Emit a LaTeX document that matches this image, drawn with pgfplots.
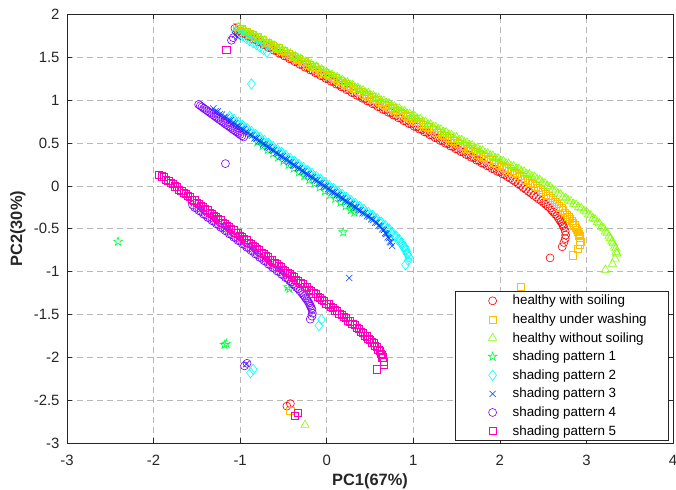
\documentclass[border=0pt]{standalone}
\usepackage{pgfplots}
\pgfplotsset{compat=1.18}
\usepackage{fontspec}
\setmainfont{Liberation Sans}
\usetikzlibrary{plotmarks}

\definecolor{c1}{rgb}{1,0,0}
\definecolor{c2}{rgb}{1,0.75,0}
\definecolor{c3}{rgb}{0.5,1,0}
\definecolor{c4}{rgb}{0,1,0.25}
\definecolor{c5}{rgb}{0,1,1}
\definecolor{c6}{rgb}{0,0.25,1}
\definecolor{c7}{rgb}{0.5,0,1}
\definecolor{c8}{rgb}{1,0,0.75}
\definecolor{axc}{rgb}{0.15,0.15,0.15}

\pgfdeclareplotmark{pentagram}{%
  \pgfpathmoveto{\pgfpointpolar{90}{\pgfplotmarksize}}%
  \pgfpathlineto{\pgfpointpolar{126}{0.382\pgfplotmarksize}}%
  \pgfpathlineto{\pgfpointpolar{162}{\pgfplotmarksize}}%
  \pgfpathlineto{\pgfpointpolar{198}{0.382\pgfplotmarksize}}%
  \pgfpathlineto{\pgfpointpolar{234}{\pgfplotmarksize}}%
  \pgfpathlineto{\pgfpointpolar{270}{0.382\pgfplotmarksize}}%
  \pgfpathlineto{\pgfpointpolar{306}{\pgfplotmarksize}}%
  \pgfpathlineto{\pgfpointpolar{342}{0.382\pgfplotmarksize}}%
  \pgfpathlineto{\pgfpointpolar{18}{\pgfplotmarksize}}%
  \pgfpathlineto{\pgfpointpolar{54}{0.382\pgfplotmarksize}}%
  \pgfpathclose
  \pgfusepathqstroke
}

\begin{document}
\begin{tikzpicture}
\begin{axis}[
  scale only axis, width=606pt, height=428.5pt,
  xmin=-3, xmax=4, ymin=-3, ymax=2,
  xtick={-3,-2,-1,0,1,2,3,4},
  ytick={-3,-2.5,-2,-1.5,-1,-0.5,0,0.5,1,1.5,2},
  grid=major,
  major grid style={dash pattern=on 6pt off 4pt, color=black!28, line width=0.6pt},
  tick align=inside, major tick length=5pt,
  axis line style={color=axc, line width=0.6pt},
  every tick/.style={color=axc, line width=0.6pt},
  tick label style={font=\fontsize{14.9}{17}\selectfont, color=axc},
  xticklabel style={yshift=-9pt},
  yticklabel style={xshift=-4pt},
  /pgf/number format/assume math mode=true,
  xlabel={PC1(67\%)}, ylabel={PC2(30\%)},
  label style={font=\fontsize{16.4}{19}\selectfont\bfseries, color=axc},
  xlabel style={at={(rel axis cs:0.5,0)}, anchor=base, yshift=-42pt},
  ylabel style={at={(rel axis cs:0,0.5)}, anchor=center, yshift=49pt},
  legend cell align=left,
  legend style={at={(rel axis cs:0.9934,0.0047)}, anchor=south east,
    draw=axc, line width=0.6pt, fill=white, text=black,
    font=\fontsize{13.4}{15}\selectfont,
    inner xsep=20pt, inner ysep=2pt, row sep=3.4pt, cells={anchor=west}},
  legend image code/.code={\draw[draw=none] (3pt,0pt) -- (38pt,0pt); \draw[#1, only marks] plot coordinates {(20pt,0pt)};},
]
% healthy with soiling
\addplot[only marks, mark=o, mark size=4pt, color=c1, line width=0.6pt] coordinates {
(-1.06,1.840) (-1.00,1.807) (-0.94,1.774) (-0.88,1.741) (-0.82,1.708) (-0.76,1.676) (-0.70,1.643) (-0.64,1.610) (-0.58,1.577) (-0.52,1.544)
(-0.46,1.511) (-0.40,1.478) (-0.34,1.445) (-0.28,1.413) (-0.22,1.380) (-0.16,1.347) (-0.10,1.314) (-0.04,1.281) (0.02,1.248) (0.08,1.215)
(0.14,1.182) (0.20,1.150) (0.26,1.117) (0.32,1.084) (0.38,1.051) (0.44,1.018) (0.50,0.985) (0.56,0.952) (0.62,0.919) (0.68,0.887)
(0.74,0.854) (0.80,0.821) (0.86,0.788) (0.92,0.755) (0.98,0.722) (1.04,0.689) (1.10,0.656) (1.16,0.624) (1.22,0.591) (1.28,0.558)
(1.34,0.525) (1.40,0.492) (1.46,0.459) (1.52,0.426) (1.58,0.393) (1.64,0.361) (1.70,0.328) (1.76,0.295) (1.82,0.262) (1.88,0.229)
(1.94,0.196) (2.00,0.163) (2.06,0.128) (2.12,0.090) (2.18,0.050) (2.24,0.005) (2.30,-0.040) (2.36,-0.085) (2.42,-0.130) (2.48,-0.175)
(2.53,-0.215) (2.58,-0.260) (2.62,-0.305) (2.66,-0.350) (2.69,-0.395) (2.72,-0.440) (2.74,-0.485) (2.755,-0.530) (2.76,-0.575) (2.755,-0.615)
(2.74,-0.660) (2.72,-0.710) (2.58,-0.840) (-0.46,-2.57) (-0.42,-2.54)
(-1.03,1.812) (-0.97,1.779) (-0.91,1.746) (-0.85,1.713) (-0.79,1.680) (-0.73,1.647) (-0.67,1.614) (-0.61,1.582) (-0.55,1.549) (-0.49,1.516)
(-0.43,1.483) (-0.37,1.450) (-0.31,1.417) (-0.25,1.384) (-0.19,1.352) (-0.13,1.319) (-0.07,1.286) (-0.01,1.253) (0.05,1.220) (0.11,1.187)
(0.17,1.154) (0.23,1.122) (0.29,1.089) (0.35,1.056) (0.41,1.023) (0.47,0.990) (0.53,0.957) (0.59,0.924) (0.65,0.892) (0.71,0.859)
(0.77,0.826) (0.83,0.793) (0.89,0.760) (0.95,0.727) (1.01,0.694) (1.07,0.662) (1.13,0.629) (1.19,0.596) (1.25,0.563) (1.31,0.530)
(1.37,0.497) (1.43,0.464) (1.49,0.432) (1.55,0.399) (1.61,0.366) (1.67,0.333) (1.73,0.300) (1.79,0.267) (1.85,0.234) (1.91,0.202)
(1.97,0.169) (2.03,0.140) (2.09,0.105) (2.15,0.068) (2.21,0.025) (2.27,-0.020) (2.33,-0.065) (2.39,-0.110) (2.45,-0.155) (2.505,-0.197)
(2.555,-0.240) (2.60,-0.285) (2.64,-0.330) (2.675,-0.375) (2.705,-0.420) (2.73,-0.465)
};
\addlegendentry{healthy with soiling}
% healthy under washing
\addplot[only marks, mark=square, mark size=3.6pt, color=c2, line width=0.6pt] coordinates {
(-1.04,1.860) (-0.98,1.828) (-0.92,1.796) (-0.86,1.765) (-0.80,1.733) (-0.74,1.701) (-0.68,1.669) (-0.62,1.637) (-0.56,1.606) (-0.50,1.574)
(-0.44,1.542) (-0.38,1.510) (-0.32,1.478) (-0.26,1.447) (-0.20,1.415) (-0.14,1.383) (-0.08,1.351) (-0.02,1.319) (0.04,1.288) (0.10,1.256)
(0.16,1.224) (0.22,1.192) (0.28,1.160) (0.34,1.129) (0.40,1.097) (0.46,1.065) (0.52,1.033) (0.58,1.001) (0.64,0.970) (0.70,0.938)
(0.76,0.906) (0.82,0.874) (0.88,0.842) (0.94,0.811) (1.00,0.779) (1.06,0.747) (1.12,0.715) (1.18,0.683) (1.24,0.652) (1.30,0.620)
(1.36,0.588) (1.42,0.556) (1.48,0.524) (1.54,0.493) (1.60,0.461) (1.66,0.429) (1.72,0.397) (1.78,0.365) (1.84,0.334) (1.90,0.302)
(1.96,0.270) (2.02,0.238) (2.08,0.206) (2.14,0.174) (2.20,0.140) (2.26,0.100) (2.32,0.060) (2.38,0.020) (2.44,-0.025) (2.50,-0.070)
(2.56,-0.120) (2.61,-0.165) (2.66,-0.210) (2.71,-0.260) (2.75,-0.310) (2.79,-0.360) (2.83,-0.410) (2.86,-0.460) (2.89,-0.510) (2.91,-0.560)
(2.925,-0.610) (2.93,-0.650) (2.92,-0.690) (2.90,-0.735) (2.84,-0.810) (2.24,-1.18) (-0.42,-2.62)
(-1.01,1.832) (-0.95,1.800) (-0.89,1.769) (-0.83,1.737) (-0.77,1.705) (-0.71,1.673) (-0.65,1.641) (-0.59,1.610) (-0.53,1.578) (-0.47,1.546)
(-0.41,1.514) (-0.35,1.482) (-0.29,1.451) (-0.23,1.419) (-0.17,1.387) (-0.11,1.355) (-0.05,1.323) (0.01,1.292) (0.07,1.260) (0.13,1.228)
(0.19,1.196) (0.25,1.164) (0.31,1.133) (0.37,1.101) (0.43,1.069) (0.49,1.037) (0.55,1.005) (0.61,0.974) (0.67,0.942) (0.73,0.910)
(0.79,0.878) (0.85,0.846) (0.91,0.815) (0.97,0.783) (1.03,0.751) (1.09,0.719) (1.15,0.687) (1.21,0.656) (1.27,0.624) (1.33,0.592)
(1.39,0.560) (1.45,0.528) (1.51,0.497) (1.57,0.465) (1.63,0.433) (1.69,0.401) (1.75,0.369) (1.81,0.338) (1.87,0.306) (1.93,0.274)
(1.99,0.242) (2.05,0.210) (2.11,0.178) (2.17,0.150) (2.23,0.118) (2.29,0.078) (2.35,0.038) (2.41,-0.005) (2.47,-0.050) (2.53,-0.097)
(2.585,-0.143) (2.635,-0.190) (2.685,-0.237) (2.73,-0.285) (2.77,-0.335) (2.81,-0.385) (2.845,-0.435) (2.875,-0.485) (2.90,-0.535) (2.918,-0.585)
};
\addlegendentry{healthy under washing}
% healthy without soiling
\addplot[only marks, mark=triangle, mark size=4.8pt, color=c3, line width=0.6pt] coordinates {
(-1.02,1.850) (-0.96,1.819) (-0.90,1.789) (-0.84,1.758) (-0.78,1.728) (-0.72,1.697) (-0.66,1.666) (-0.60,1.636) (-0.54,1.605) (-0.48,1.575)
(-0.42,1.544) (-0.36,1.513) (-0.30,1.483) (-0.24,1.452) (-0.18,1.422) (-0.12,1.391) (-0.06,1.360) (0.00,1.330) (0.06,1.299) (0.12,1.269)
(0.18,1.238) (0.24,1.207) (0.30,1.177) (0.36,1.146) (0.42,1.116) (0.48,1.085) (0.54,1.054) (0.60,1.024) (0.66,0.993) (0.72,0.963)
(0.78,0.932) (0.84,0.901) (0.90,0.871) (0.96,0.840) (1.02,0.810) (1.08,0.779) (1.14,0.748) (1.20,0.718) (1.26,0.687) (1.32,0.657)
(1.38,0.626) (1.44,0.595) (1.50,0.565) (1.56,0.534) (1.62,0.504) (1.68,0.473) (1.74,0.442) (1.80,0.412) (1.86,0.381) (1.92,0.351)
(1.98,0.320) (2.04,0.289) (2.10,0.259) (2.16,0.228) (2.22,0.198) (2.28,0.167) (2.34,0.136) (2.40,0.106) (2.46,0.070) (2.52,0.030)
(2.58,-0.010) (2.64,-0.055) (2.70,-0.100) (2.76,-0.140) (2.82,-0.180) (2.88,-0.220) (2.94,-0.260) (3.00,-0.300) (3.05,-0.345) (3.10,-0.390)
(3.15,-0.440) (3.20,-0.495) (3.24,-0.550) (3.28,-0.610) (3.31,-0.670) (3.34,-0.730) (3.35,-0.790) (3.33,-0.850) (3.30,-0.910) (3.22,-0.980)
(-0.25,-2.79)
(-0.99,1.823) (-0.93,1.792) (-0.87,1.761) (-0.81,1.731) (-0.75,1.700) (-0.69,1.670) (-0.63,1.639) (-0.57,1.608) (-0.51,1.578) (-0.45,1.547)
(-0.39,1.517) (-0.33,1.486) (-0.27,1.455) (-0.21,1.425) (-0.15,1.394) (-0.09,1.364) (-0.03,1.333) (0.03,1.302) (0.09,1.272) (0.15,1.241)
(0.21,1.211) (0.27,1.180) (0.33,1.149) (0.39,1.119) (0.45,1.088) (0.51,1.058) (0.57,1.027) (0.63,0.996) (0.69,0.966) (0.75,0.935)
(0.81,0.905) (0.87,0.874) (0.93,0.843) (0.99,0.813) (1.05,0.782) (1.11,0.752) (1.17,0.721) (1.23,0.690) (1.29,0.660) (1.35,0.629)
(1.41,0.599) (1.47,0.568) (1.53,0.537) (1.59,0.507) (1.65,0.476) (1.71,0.446) (1.77,0.415) (1.83,0.384) (1.89,0.354) (1.95,0.323)
(2.01,0.293) (2.07,0.262) (2.13,0.232) (2.19,0.201) (2.25,0.170) (2.31,0.140) (2.37,0.109) (2.43,0.080) (2.49,0.040) (2.55,0.000)
(2.61,-0.042) (2.67,-0.088) (2.73,-0.130) (2.79,-0.170) (2.85,-0.210) (2.91,-0.250) (2.97,-0.290) (3.025,-0.333) (3.075,-0.377) (3.125,-0.425)
(3.175,-0.478) (3.22,-0.533) (3.26,-0.590) (3.295,-0.650) (3.325,-0.710) (3.345,-0.770)
};
\addlegendentry{healthy without soiling}
% shading pattern 1
\addplot[only marks, mark=pentagram, mark size=4.6pt, color=c4, line width=0.6pt] coordinates {
(-0.80,0.510) (-0.74,0.466) (-0.68,0.422) (-0.62,0.378) (-0.56,0.334) (-0.50,0.290) (-0.44,0.246) (-0.38,0.203) (-0.32,0.159) (-0.26,0.115)
(-0.20,0.071) (-0.14,0.027) (-0.08,-0.017) (-0.02,-0.061) (0.04,-0.105) (0.10,-0.149) (0.16,-0.193) (0.22,-0.237) (0.28,-0.281) (0.32,-0.310)
(0.30,-0.260) (0.19,-0.54) (-2.41,-0.65) (-1.18,-1.855) (-1.16,-1.84) (-0.43,-1.20) (-0.45,-1.18)
};
\addlegendentry{shading pattern 1}
% shading pattern 2
\addplot[only marks, mark=diamond, mark size=5.2pt, color=c5, line width=0.6pt] coordinates {
(-1.12,0.810) (-1.07,0.775) (-1.02,0.740) (-0.97,0.705) (-0.92,0.670) (-0.87,0.635) (-0.82,0.600) (-0.77,0.565) (-0.72,0.530) (-0.67,0.495)
(-0.62,0.460) (-0.57,0.425) (-0.52,0.390) (-0.47,0.355) (-0.42,0.320) (-0.37,0.285) (-0.32,0.250) (-0.27,0.215) (-0.22,0.180) (-0.17,0.145)
(-0.12,0.110) (-0.07,0.075) (-0.02,0.040) (0.03,0.005) (0.08,-0.030) (0.13,-0.065) (0.18,-0.100) (0.23,-0.135) (0.28,-0.170) (0.33,-0.205)
(0.38,-0.240) (0.43,-0.275) (0.48,-0.310) (0.53,-0.345) (0.58,-0.383) (0.63,-0.423) (0.68,-0.465) (0.72,-0.503) (0.76,-0.543) (0.80,-0.585)
(0.84,-0.628) (0.87,-0.668) (0.90,-0.710) (0.92,-0.750) (0.94,-0.790) (0.95,-0.830) (0.94,-0.870) (0.91,-0.920)
(-1.095,0.773) (-1.045,0.738) (-0.995,0.703) (-0.945,0.668) (-0.895,0.633) (-0.845,0.598) (-0.795,0.563) (-0.745,0.528) (-0.695,0.493) (-0.645,0.458)
(-0.595,0.423) (-0.545,0.388) (-0.495,0.353) (-0.445,0.318) (-0.395,0.283) (-0.345,0.248) (-0.295,0.213) (-0.245,0.178) (-0.195,0.143) (-0.145,0.108)
(-0.095,0.073) (-0.045,0.038) (0.005,0.003) (0.055,-0.032) (0.105,-0.067) (0.155,-0.102) (0.205,-0.137) (0.255,-0.172) (0.305,-0.207) (0.355,-0.242)
(0.405,-0.277) (0.455,-0.312) (0.505,-0.345) (0.555,-0.382) (0.605,-0.420) (0.655,-0.462) (0.70,-0.503) (0.74,-0.543) (0.78,-0.585) (0.82,-0.628)
(0.855,-0.670) (0.885,-0.710) (0.905,-0.750) (0.925,-0.790)
(-1.05,1.800) (-1.01,1.775) (-0.97,1.750) (-0.93,1.720) (-0.89,1.695) (-0.85,1.670) (-0.81,1.645) (-0.77,1.620) (-0.73,1.590) (-0.69,1.565)
(-0.87,1.19) (-0.06,-1.56) (-0.09,-1.63) (-0.85,-2.14) (-0.88,-2.18)
};
\addlegendentry{shading pattern 2}
% shading pattern 3
\addplot[only marks, mark=x, mark size=4.4pt, color=c6, line width=0.6pt] coordinates {
(-1.31,0.903) (-1.26,0.868) (-1.21,0.833) (-1.16,0.798) (-1.11,0.763) (-1.06,0.728) (-1.01,0.693) (-0.96,0.658) (-0.91,0.623) (-0.86,0.588)
(-0.81,0.553) (-0.76,0.518) (-0.71,0.483) (-0.66,0.448) (-0.61,0.413) (-0.56,0.378) (-0.51,0.343) (-0.46,0.308) (-0.41,0.273) (-0.36,0.238)
(-0.31,0.203) (-0.26,0.168) (-0.21,0.133) (-0.16,0.098) (-0.11,0.063) (-0.06,0.028) (-0.01,-0.007) (0.04,-0.042) (0.09,-0.077) (0.14,-0.112)
(0.19,-0.147) (0.24,-0.182) (0.29,-0.217) (0.34,-0.252) (0.39,-0.287) (0.44,-0.322) (0.49,-0.357) (0.54,-0.395) (0.58,-0.430) (0.62,-0.470)
(0.66,-0.515) (0.69,-0.560) (0.72,-0.610) (0.74,-0.660) (0.755,-0.700)
(-1.285,0.871) (-1.235,0.836) (-1.185,0.801) (-1.135,0.766) (-1.085,0.731) (-1.035,0.696) (-0.985,0.661) (-0.935,0.626) (-0.885,0.591) (-0.835,0.556)
(-0.785,0.521) (-0.735,0.486) (-0.685,0.451) (-0.635,0.416) (-0.585,0.381) (-0.535,0.346) (-0.485,0.311) (-0.435,0.276) (-0.385,0.241) (-0.335,0.206)
(-0.285,0.171) (-0.235,0.136) (-0.185,0.101) (-0.135,0.066) (-0.085,0.031) (-0.035,-0.004) (0.015,-0.039) (0.065,-0.074) (0.115,-0.109) (0.165,-0.144)
(0.215,-0.179) (0.265,-0.214) (0.315,-0.249) (0.365,-0.284) (0.415,-0.319) (0.465,-0.354) (0.515,-0.390) (0.56,-0.427) (0.60,-0.465) (0.64,-0.507)
(0.675,-0.552) (0.705,-0.600) (0.73,-0.650)
(0.26,-1.075) (-1.03,1.74) (-1.06,1.76) (-0.93,-2.08)
};
\addlegendentry{shading pattern 3}
% shading pattern 4
\addplot[only marks, mark=o, mark size=4pt, color=c7, line width=0.6pt] coordinates {
(-1.48,0.950) (-1.44,0.921) (-1.40,0.892) (-1.36,0.862) (-1.32,0.833) (-1.28,0.804) (-1.24,0.775) (-1.20,0.746) (-1.16,0.716) (-1.12,0.687)
(-1.08,0.658) (-1.04,0.629) (-1.00,0.600) (-0.96,0.570)
(-1.46,0.935) (-1.42,0.906) (-1.38,0.877) (-1.34,0.848) (-1.30,0.818) (-1.26,0.789) (-1.22,0.760) (-1.18,0.731) (-1.14,0.701) (-1.10,0.672)
(-1.06,0.643) (-1.02,0.614) (-0.98,0.585)
(-1.17,0.26) (-1.10,1.70) (-1.08,1.73)
(-1.55,-0.223) (-1.50,-0.261) (-1.45,-0.300) (-1.40,-0.338) (-1.35,-0.377) (-1.30,-0.415) (-1.25,-0.454) (-1.20,-0.492) (-1.15,-0.531) (-1.10,-0.569)
(-1.05,-0.608) (-1.00,-0.646) (-0.95,-0.686) (-0.90,-0.725) (-0.85,-0.765) (-0.80,-0.804) (-0.75,-0.844) (-0.70,-0.883) (-0.65,-0.923) (-0.60,-0.962)
(-0.55,-1.002) (-0.50,-1.041) (-0.45,-1.081) (-0.41,-1.120) (-0.37,-1.160) (-0.33,-1.200) (-0.29,-1.245) (-0.26,-1.285) (-0.23,-1.325) (-0.205,-1.365)
(-0.185,-1.405) (-0.17,-1.445) (-0.165,-1.485) (-0.17,-1.520) (-0.19,-1.555)
(-1.525,-0.252) (-1.475,-0.290) (-1.425,-0.329) (-1.375,-0.367) (-1.325,-0.406) (-1.275,-0.444) (-1.225,-0.483) (-1.175,-0.521) (-1.125,-0.560) (-1.075,-0.598)
(-1.025,-0.637) (-0.975,-0.676) (-0.925,-0.715) (-0.875,-0.755) (-0.825,-0.794) (-0.775,-0.834) (-0.725,-0.873) (-0.675,-0.913) (-0.625,-0.952) (-0.575,-0.992)
(-0.525,-1.031) (-0.475,-1.071) (-0.43,-1.105) (-0.39,-1.145) (-0.35,-1.185) (-0.31,-1.225) (-0.275,-1.267) (-0.245,-1.307) (-0.217,-1.347) (-0.195,-1.387)
(-0.177,-1.427)
(-0.95,-2.10) (-0.92,-2.07)
};
\addlegendentry{shading pattern 4}
% shading pattern 5
\addplot[only marks, mark=square, mark size=3.6pt, color=c8, line width=0.6pt] coordinates {
(-1.94,0.130) (-1.88,0.102) (-1.83,0.063) (-1.78,0.025) (-1.73,-0.014) (-1.68,-0.053) (-1.63,-0.091) (-1.58,-0.130) (-1.53,-0.168) (-1.48,-0.207)
(-1.43,-0.245) (-1.38,-0.284) (-1.33,-0.322) (-1.28,-0.361) (-1.23,-0.399) (-1.18,-0.438) (-1.13,-0.476) (-1.08,-0.515) (-1.03,-0.553) (-0.98,-0.592)
(-0.93,-0.631) (-0.88,-0.671) (-0.83,-0.710) (-0.78,-0.750) (-0.73,-0.789) (-0.68,-0.829) (-0.63,-0.868) (-0.58,-0.908) (-0.53,-0.947) (-0.48,-0.987)
(-0.43,-1.026) (-0.38,-1.066) (-0.33,-1.105) (-0.28,-1.145) (-0.23,-1.184) (-0.18,-1.224) (-0.13,-1.263) (-0.08,-1.303) (-0.03,-1.342) (0.02,-1.382)
(0.07,-1.421) (0.12,-1.461) (0.17,-1.500) (0.22,-1.540) (0.27,-1.580) (0.32,-1.625) (0.37,-1.670) (0.42,-1.715) (0.46,-1.755) (0.50,-1.795)
(0.54,-1.835) (0.58,-1.880) (0.61,-1.925) (0.635,-1.970) (0.65,-2.010) (0.66,-2.050) (0.655,-2.090) (0.58,-2.140)
(-1.905,0.111) (-1.855,0.072) (-1.805,0.034) (-1.755,-0.005) (-1.705,-0.043) (-1.655,-0.082) (-1.605,-0.120) (-1.555,-0.159) (-1.505,-0.197) (-1.455,-0.236)
(-1.405,-0.274) (-1.355,-0.313) (-1.305,-0.351) (-1.255,-0.390) (-1.205,-0.428) (-1.155,-0.467) (-1.105,-0.505) (-1.055,-0.544) (-1.005,-0.582) (-0.955,-0.622)
(-0.905,-0.661) (-0.855,-0.701) (-0.805,-0.740) (-0.755,-0.780) (-0.705,-0.819) (-0.655,-0.859) (-0.605,-0.898) (-0.555,-0.938) (-0.505,-0.977) (-0.455,-1.017)
(-0.405,-1.056) (-0.355,-1.096) (-0.305,-1.135) (-0.255,-1.175) (-0.205,-1.214) (-0.155,-1.254) (-0.105,-1.293) (-0.055,-1.333) (-0.005,-1.372) (0.045,-1.412)
(0.095,-1.451) (0.145,-1.491) (0.195,-1.530) (0.245,-1.570) (0.295,-1.613) (0.345,-1.657) (0.395,-1.702) (0.44,-1.745) (0.48,-1.785) (0.52,-1.825)
(0.56,-1.867) (0.595,-1.910) (0.623,-1.955) (0.643,-2.000)
(-1.16,1.59) (-0.37,-2.68) (-0.33,-2.65)
};
\addlegendentry{shading pattern 5}
\end{axis}
\pgfresetboundingbox
\path[use as bounding box] (current axis.south west) ++(-67pt,-46pt) rectangle ++(676pt,489pt);
\end{tikzpicture}
\end{document}
